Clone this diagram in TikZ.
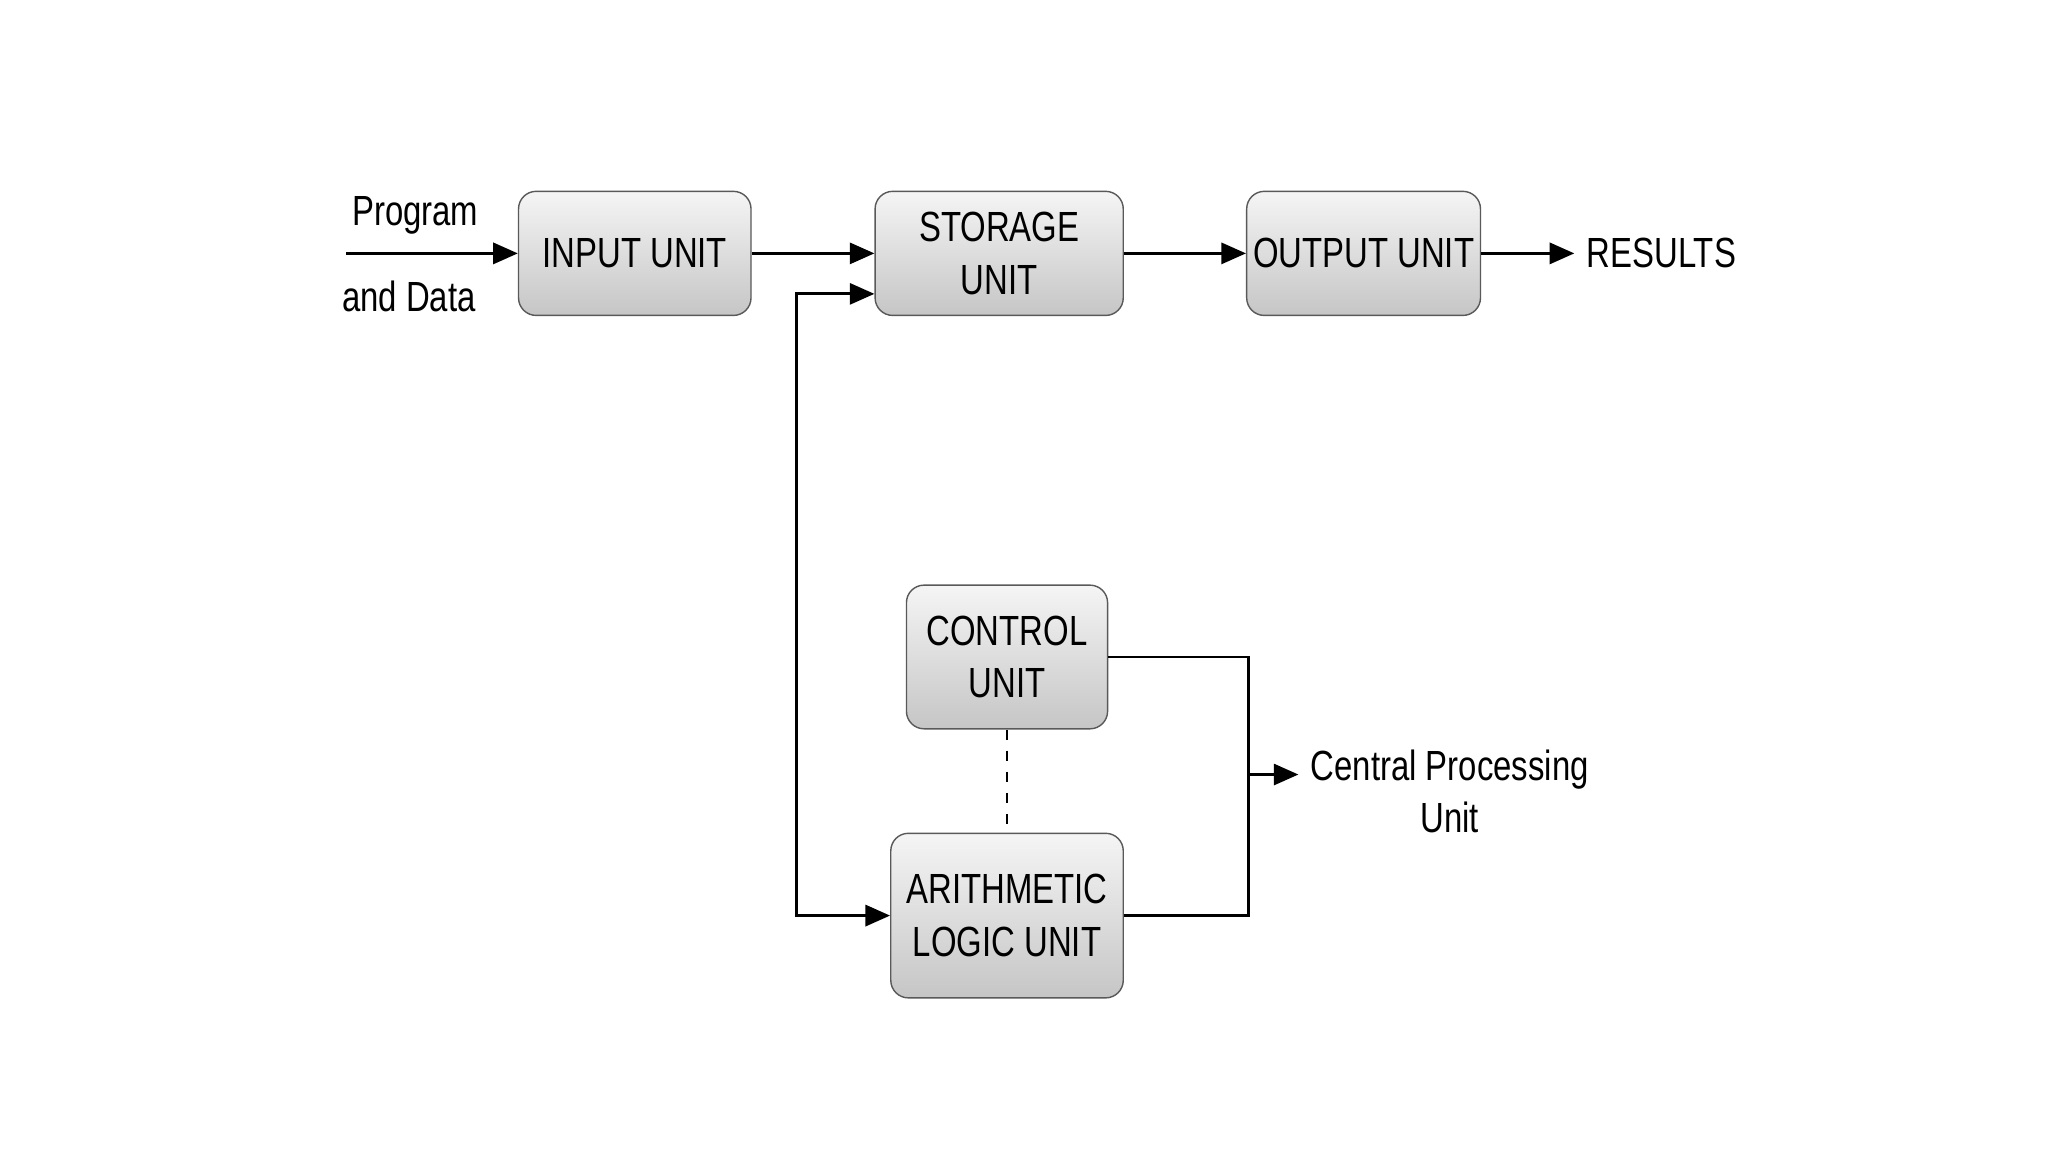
\documentclass[tikz,border=0pt]{standalone}
\usepackage{fontspec}
\setmainfont{Liberation Sans}[FakeStretch=0.78]
\usetikzlibrary{arrows.meta}
\begin{document}
\begin{tikzpicture}[x=0.01306cm,y=-0.01306cm,>={Triangle[length=7pt,width=6pt]},
  unit/.style={draw=gray!70!black,rounded corners=5pt,top color=gray!8,bottom color=gray!45,
    align=center,font=\fontsize{12}{15}\selectfont,inner sep=0pt},
  lbl/.style={align=center,font=\fontsize{12}{15}\selectfont},
  line/.style={thick}]
\useasboundingbox (0,0) rectangle (1568,882);
\path
(486,194) node[unit,minimum width=178*0.01306cm,minimum height=95*0.01306cm] (in) {INPUT UNIT}
(765,194) node[unit,minimum width=190*0.01306cm,minimum height=95*0.01306cm] (st) {STORAGE\\UNIT}
(1044,194) node[unit,minimum width=179*0.01306cm,minimum height=95*0.01306cm] (out) {OUTPUT UNIT}
(771,503) node[unit,minimum width=154*0.01306cm,minimum height=110*0.01306cm] (cu) {CONTROL\\UNIT}
(771,701) node[unit,minimum width=178*0.01306cm,minimum height=126*0.01306cm] (alu) {ARITHMETIC\\LOGIC UNIT}
(318,165) node[lbl] (prog) {Program}
(313,227) node[lbl] (data) {and Data}
(1272,194) node[lbl] (res) {RESULTS}
(1110,606) node[lbl] (cpu) {Central Processing\\Unit};
\coordinate (src) at (265,194);
\coordinate (j) at (956,593);
\draw[line,->] (src)--(in);
\draw[line,->] (in)--(st);
\draw[line,->] (st)--(out);
\draw[line,->] (out)--(res);
\draw[line,->] (alu.west -| 610,0) |- ([yshift=-31*0.01306cm]st.east -| st.west);
\draw[line,->] (st.west |- 0,225) ++(-60,0) |- (alu.west);
\draw[line] (cu.east) -| (j) |- (alu.east);
\draw[line,->] (j)--(cpu.west |- j);
\draw[line,dashed] (cu)--(alu);
\end{tikzpicture}
\end{document}
